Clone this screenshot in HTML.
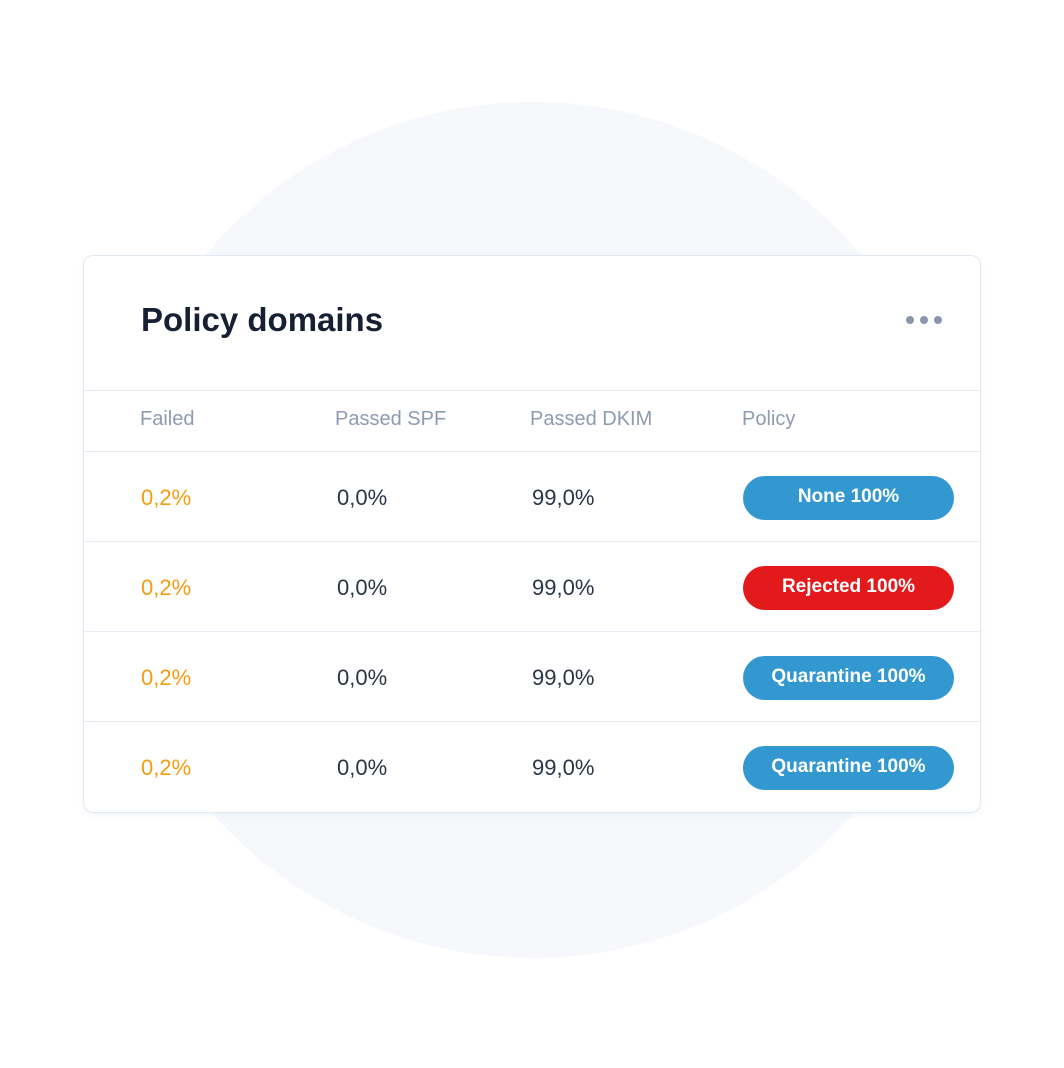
<!DOCTYPE html>
<html><head><meta charset="utf-8"><style>
body{margin:0;width:1064px;height:1068px;background:#fff;position:relative;overflow:hidden;font-family:"Liberation Sans",sans-serif}
.bg{position:absolute;left:105px;top:102px;width:856px;height:856px;border-radius:50%;background:#f6f8fc}
.card{position:absolute;left:83px;top:255px;width:896px;height:556px;background:#fff;border:1px solid #e2e9f1;border-radius:10px;box-shadow:0 2px 6px rgba(180,195,215,.15)}
.t{position:absolute;white-space:nowrap}
.line{position:absolute;left:0;width:896px;height:1px;background:#e4ebf3}
.pill{position:absolute;left:659px;width:211px;height:44px;border-radius:22px;color:#fff;font-weight:bold;font-size:19px;text-align:center;line-height:41px}
.dot{position:absolute;width:8px;height:8px;border-radius:50%;background:#8a96ab;top:60px}
</style></head><body>
<div class="bg"></div>
<div class="card">
<div class="t" style="left:57px;top:45px;font-size:33px;color:#172033;font-weight:bold">Policy domains</div>
<div style="position:absolute;left:818px;top:50px;width:44px;height:28px">
<div class="dot" style="left:4px;top:10px"></div><div class="dot" style="left:18px;top:10px"></div><div class="dot" style="left:32px;top:10px"></div></div>
<div class="line" style="top:134px"></div>
<div class="t" style="left:56px;top:152px;font-size:20px;color:#8e9ab0">Failed</div>
<div class="t" style="left:251px;top:152px;font-size:20px;color:#8e9ab0">Passed SPF</div>
<div class="t" style="left:446px;top:152px;font-size:20px;color:#8e9ab0">Passed DKIM</div>
<div class="t" style="left:658px;top:152px;font-size:20px;color:#8e9ab0">Policy</div>
<div class="line" style="top:195px"></div>
<div id="rows"></div>
</div>
<script>
const failed=["0,2%","0,2%","0,2%","0,2%"];
const spf=["0,0%","0,0%","0,0%","0,0%"];
const dkim=["99,0%","99,0%","99,0%","99,0%"];
const policy=["None 100%","Rejected 100%","Quarantine 100%","Quarantine 100%"];
const rowTops=[196,286,376,466];
const rows=document.getElementById('rows');
for(let i=0;i<failed.length;i++){
  const top=rowTops[i];
  const mk=(txt,left,color,name)=>{const d=document.createElement('div');d.className='t';d.textContent=txt;d.style.cssText=`left:${left}px;top:${top+33}px;font-size:22px;color:${color}`;
    
    
    rows.appendChild(d);};
  mk(failed[i],57,'#f39c12','failed-value');
  mk(spf[i],253,'#2b3445','spf-value');
  mk(dkim[i],448,'#2b3445','dkim-value');
  const p=document.createElement('div');p.className='pill';p.textContent=policy[i];
  p.style.top=(top+24)+'px';
  p.style.background=policy[i].startsWith('Rejected')?'#e31a1c':'#3398cf';
  
  
  rows.appendChild(p);
  if(i<failed.length-1){const l=document.createElement('div');l.className='line';l.style.top=(top+89)+'px';
    
    
    rows.appendChild(l);}
}
</script>
</body></html>
